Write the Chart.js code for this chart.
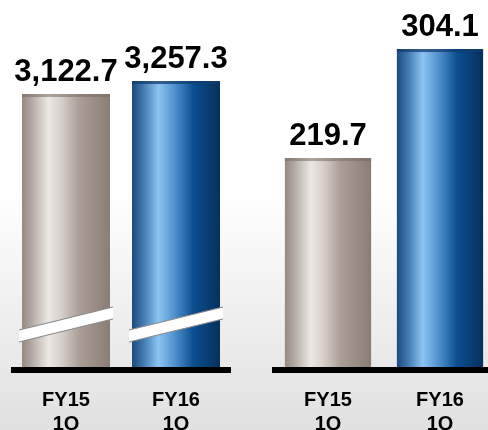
<!DOCTYPE html>
<html>
<head>
<meta charset="utf-8">
<script src="https://cdn.jsdelivr.net/npm/chart.js@4.4.0/dist/chart.umd.min.js"></script>
<style>
  html, body { margin: 0; padding: 0; }
  body {
    width: 488px; height: 430px; overflow: hidden; position: relative;
    background: linear-gradient(to bottom, #ffffff 0%, #ffffff 44%, #e0e0e0 100%);
  }
  .box { position: absolute; top: 0; height: 430px; }
  #boxL { left: 0; width: 244px; }
  #boxR { left: 244px; width: 252px; }
</style>
</head>
<body>
<div class="box" id="boxL"><canvas id="left"></canvas></div>
<div class="box" id="boxR"><canvas id="right"></canvas></div>
<script>
// data
var categories = [['FY15', '1Q'], ['FY16', '1Q']];
var netSales = [3122.7, 3257.3];     // left pair, broken axis
var operatingIncome = [219.7, 304.1]; // right pair
var valueLabels = ['3,122.7', '3,257.3'];
var valueLabels2 = ['219.7', '304.1'];

var greyStops = [[0, '#968a82'], [0.1, '#b0a69f'], [0.3, '#ece8e4'], [0.45, '#d6cec9'], [0.65, '#aa9e96'], [1, '#8a7d74']];
var blueStops = [[0, '#1c4a7c'], [0.12, '#3f76ad'], [0.3, '#8cc4f2'], [0.5, '#4a8cca'], [0.7, '#0b4e8f'], [1, '#07305c']];

// per bar horizontal gradient (scriptable so each bar keeps its own options)
function barFill(c) {
    var chart = c.chart;
    var stops = c.dataIndex === 0 ? greyStops : blueStops;
    if (!chart.chartArea) return stops[2][1];
    var xs = chart.scales.x;
    var w = xs.width / xs.ticks.length * c.dataset.barPercentage;
    var x0 = xs.getPixelForValue(c.dataIndex) - w / 2;
    var g = chart.ctx.createLinearGradient(x0, 0, x0 + w, 0);
    stops.forEach(function (s) { g.addColorStop(s[0], s[1]); });
    return g;
}

// value labels, black base line, break marks
var decorate = {
    id: 'decorate',
    afterDatasetsDraw: function (chart) {
        var ctx = chart.ctx;
        var area = chart.chartArea;
        var meta = chart.getDatasetMeta(0);
        var labels = chart.options.plugins.decorate.labels;
        ctx.save();
        meta.data.forEach(function (bar, i) {
            var x0 = bar.x - bar.width / 2;
            // top bevel
            ctx.fillStyle = i === 0 ? 'rgba(120,108,100,0.55)' : 'rgba(20,60,110,0.75)';
            ctx.fillRect(x0, bar.y, bar.width, 3);
            ctx.fillStyle = '#000';
            ctx.font = 'bold 31px "Liberation Sans", Arial, sans-serif';
            ctx.textAlign = 'center';
            ctx.textBaseline = 'alphabetic';
            ctx.fillText(labels[i], bar.x, bar.y - 13);
            if (chart.options.plugins.decorate.broken) {
                var l = x0 - 3, r = x0 + bar.width + 3;
                var yl = area.bottom - 37, yr = area.bottom - 60;
                ctx.beginPath();
                ctx.moveTo(l, yl);
                ctx.lineTo(r, yr);
                ctx.lineTo(r, yr + 12);
                ctx.lineTo(l, yl + 12);
                ctx.closePath();
                ctx.fillStyle = '#ffffff';
                ctx.fill();
                ctx.strokeStyle = '#8a8a8a';
                ctx.lineWidth = 1.2;
                ctx.beginPath();
                ctx.moveTo(l, yl); ctx.lineTo(r, yr);
                ctx.moveTo(l, yl + 12); ctx.lineTo(r, yr + 12);
                ctx.stroke();
            }
        });
        ctx.fillStyle = '#000';
        ctx.fillRect(area.left, area.bottom, area.right - area.left, 6);
        ctx.restore();
    }
};

function makeChart(id, values, labels, yMin, yMax, pad, broken, barPct) {
    return new Chart(document.getElementById(id), {
        type: 'bar',
        data: {
            labels: categories,
            datasets: [{
                data: values,
                backgroundColor: barFill,
                borderWidth: 0,
                barPercentage: barPct,
                categoryPercentage: 1
            }]
        },
        options: {
            responsive: true,
            maintainAspectRatio: false,
            animation: false,
            layout: { padding: pad },
            plugins: {
                legend: { display: false },
                tooltip: { enabled: false },
                decorate: { labels: labels, broken: broken }
            },
            scales: {
                x: {
                    grid: { display: false },
                    border: { display: false },
                    ticks: {
                        color: '#000',
                        padding: 13,
                        font: { family: '"Liberation Sans", Arial, sans-serif', size: 20, weight: 'bold', lineHeight: 1.2 }
                    },
                    afterFit: function (scale) { scale.height = 63; }
                },
                y: { display: false, min: yMin, max: yMax }
            }
        },
        plugins: [decorate]
    });
}

makeChart('left', netSales, valueLabels, 296, 3889, { top: 20, left: 11, right: 13, bottom: 0 }, true, 0.8);
makeChart('right', operatingIncome, valueLabels2, 57.9, 326.6, { top: 20, left: 28, right: 0, bottom: 0 }, false, 0.77);
</script>
</body>
</html>
